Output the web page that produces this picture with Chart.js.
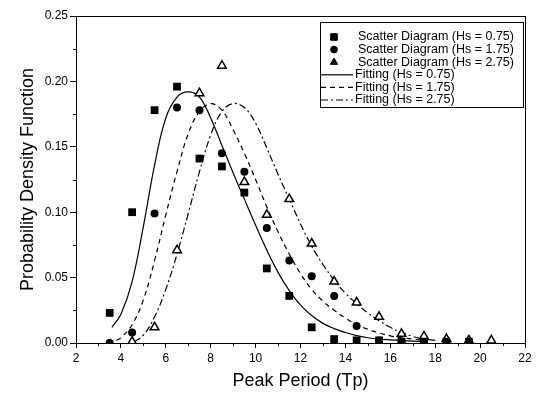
<!DOCTYPE html>
<html><head><meta charset="utf-8">
<script src="https://cdn.jsdelivr.net/npm/chart.js@4/dist/chart.umd.min.js"></script>
<style>html,body{margin:0;padding:0;background:#fff;}#wrap{width:538px;height:396px;}</style>
</head><body><div id="wrap"><canvas id="c" width="538" height="396"></canvas></div>
<script>
// ---- data ----
const seriesLabels = [
  'Scatter Diagram (Hs = 0.75)', 'Scatter Diagram (Hs = 1.75)', 'Scatter Diagram (Hs = 2.75)',
  'Fitting (Hs = 0.75)', 'Fitting (Hs = 1.75)', 'Fitting (Hs = 2.75)'
];
const tpScatter075 = [3.5,4.5,5.5,6.5,7.5,8.5,9.5,10.5,11.5,12.5,13.5,14.5,15.5,16.5,17.5,18.5,19.5];
const pdfScatter075 = [0.023,0.100,0.178,0.196,0.141,0.135,0.115,0.057,0.036,0.012,0.003,0.002,0.002,0.001,0.001,0.001,0.001];
const tpScatter175 = [3.5,4.5,5.5,6.5,7.5,8.5,9.5,10.5,11.5,12.5,13.5,14.5,15.5,16.5,17.5];
const pdfScatter175 = [0.000,0.008,0.099,0.180,0.178,0.145,0.131,0.088,0.063,0.051,0.036,0.013,0.002,0.001,0.001];
const tpScatter275 = [4.5,5.5,6.5,7.5,8.5,9.5,10.5,11.5,12.5,13.5,14.5,15.5,16.5,17.5,18.5,19.5,20.5];
const pdfScatter275 = [0.001,0.012,0.071,0.191,0.212,0.123,0.098,0.110,0.076,0.047,0.031,0.020,0.007,0.005,0.003,0.002,0.002];

const tpFit075 = [3.6,4.0,4.5,5.0,5.5,6.0,6.5,7.0,7.5,8.0,8.5,9.0,9.5,10.0,10.5,11.0,11.5,12.0,12.5,13.0,13.5,14.0,14.5,15.0,15.5,16.0,16.5,17.0,17.5];
const pdfFit075 = [0.012,0.022,0.047,0.089,0.136,0.172,0.188,0.192,0.188,0.172,0.151,0.130,0.110,0.090,0.071,0.054,0.040,0.029,0.021,0.015,0.011,0.008,0.0056,0.004,0.003,0.0024,0.0019,0.0015,0.001];
const tpFit175 = [3.8,4.0,4.5,5.0,5.5,6.0,6.5,7.0,7.5,8.0,8.5,9.0,9.5,10.0,10.5,11.0,11.5,12.0,12.5,13.0,13.5,14.0,14.5,15.0,15.5,16.0,16.5,17.0,17.5];
const pdfFit175 = [0.002,0.004,0.014,0.033,0.063,0.098,0.131,0.160,0.177,0.183,0.178,0.163,0.145,0.125,0.104,0.085,0.068,0.053,0.041,0.032,0.025,0.019,0.014,0.0105,0.0077,0.0055,0.004,0.003,0.002];
const tpFit275 = [4.6,5.0,5.5,6.0,6.5,7.0,7.5,8.0,8.5,9.0,9.5,10.0,10.5,11.0,11.5,12.0,12.5,13.0,13.5,14.0,14.5,15.0,15.5,16.0,16.5,17.0,17.5,18.0];
const pdfFit275 = [0.001,0.006,0.020,0.041,0.068,0.099,0.131,0.159,0.177,0.183,0.180,0.168,0.149,0.129,0.110,0.091,0.074,0.060,0.048,0.038,0.030,0.023,0.017,0.012,0.008,0.005,0.003,0.002];

const xTickStep = 2, yTickStep = 0.05;
const xMin = 2, xMax = 22, yMin = 0, yMax = 0.25;

const pts = (xs, ys) => xs.map((x, i) => ({x, y: ys[i]}));
const FONT = "'Liberation Sans', Arial, sans-serif";
Chart.defaults.font.family = FONT;
Chart.defaults.color = '#000';

const minorAndFrame = {
  id: 'minorAndFrame',
  afterDraw(chart) {
    const {ctx, chartArea: ca, scales: {x, y}} = chart;
    ctx.save();
    ctx.strokeStyle = '#000'; ctx.lineWidth = 1;
    ctx.beginPath();
    const xt = x.ticks.map(t => t.value);
    for (let i = 0; i < xt.length - 1; i++) {
      const px = Math.round(x.getPixelForValue((xt[i] + xt[i+1]) / 2)) + 0.5;
      ctx.moveTo(px, ca.bottom); ctx.lineTo(px, ca.bottom + 3);
    }
    const yt = y.ticks.map(t => t.value);
    for (let i = 0; i < yt.length - 1; i++) {
      const py = Math.round(y.getPixelForValue((yt[i] + yt[i+1]) / 2)) + 0.5;
      ctx.moveTo(ca.left, py); ctx.lineTo(ca.left - 3, py);
    }
    ctx.stroke();
    ctx.strokeRect(Math.round(ca.left) + 0.5, Math.round(ca.top) + 0.5,
                   Math.round(ca.right - ca.left), Math.round(ca.bottom - ca.top));
    ctx.restore();
  }
};

const boxLegend = {
  id: 'boxLegend',
  afterDraw(chart) {
    const {ctx, chartArea: ca} = chart;
    const right = ca.right - 2, left = right - 203, top = ca.top + 6, rowH = 12.6;
    const n = chart.data.datasets.length;
    const first = top + 15;
    const bottom = first + rowH * (n - 1) + 7;
    ctx.save();
    ctx.fillStyle = '#fff';
    ctx.fillRect(left, top, right - left, bottom - top);
    ctx.strokeStyle = '#000'; ctx.lineWidth = 1;
    ctx.strokeRect(Math.round(left) + 0.5, Math.round(top) + 0.5, Math.round(right - left), Math.round(bottom - top));
    ctx.font = '12.5px ' + FONT;
    ctx.textBaseline = 'middle';
    chart.data.datasets.forEach((ds, i) => {
      const cy = first + rowH * i;
      ctx.fillStyle = '#000';
      if (ds.showLine) {
        ctx.save();
        ctx.strokeStyle = ds.borderColor; ctx.lineWidth = ds.borderWidth;
        ctx.setLineDash(ds.borderDash || []);
        ctx.beginPath(); ctx.moveTo(left + 1, cy); ctx.lineTo(left + 33, cy); ctx.stroke();
        ctx.restore();
        ctx.fillText(ds.label, left + 35, cy);
      } else {
        ctx.save();
        ctx.fillStyle = '#000'; ctx.strokeStyle = '#000'; ctx.lineWidth = 1;
        Chart.helpers.drawPoint(ctx, {pointStyle: ds.pointStyle, radius: ds.pointRadius * 0.85, borderWidth: 1, rotation: 0}, left + 14, cy);
        ctx.restore();
        ctx.fillText(ds.label, left + 38, cy);
      }
    });
    ctx.restore();
  }
};

new Chart(document.getElementById('c'), {
  type: 'scatter',
  data: {
    datasets: [
      {label: seriesLabels[0], data: pts(tpScatter075, pdfScatter075), pointStyle: 'rect', pointRadius: 5.5,
       backgroundColor: '#000', borderColor: '#000', borderWidth: 0, showLine: false},
      {label: seriesLabels[1], data: pts(tpScatter175, pdfScatter175), pointStyle: 'circle', pointRadius: 4,
       backgroundColor: '#000', borderColor: '#000', borderWidth: 0, showLine: false},
      {label: seriesLabels[2], data: pts(tpScatter275, pdfScatter275), pointStyle: 'triangle', pointRadius: 5,
       backgroundColor: '#fff', borderColor: '#000', borderWidth: 1.5, showLine: false},
      {label: seriesLabels[3], data: pts(tpFit075, pdfFit075), showLine: true, pointRadius: 0,
       borderColor: '#000', borderWidth: 1.2, borderDash: [], tension: 0.4, fill: false},
      {label: seriesLabels[4], data: pts(tpFit175, pdfFit175), showLine: true, pointRadius: 0,
       borderColor: '#000', borderWidth: 1.2, borderDash: [5, 4], tension: 0.4, fill: false},
      {label: seriesLabels[5], data: pts(tpFit275, pdfFit275), showLine: true, pointRadius: 0,
       borderColor: '#000', borderWidth: 1.2, borderDash: [7, 3, 2, 3], tension: 0.4, fill: false}
    ]
  },
  options: {
    responsive: false, animation: false, devicePixelRatio: 1,
    layout: {padding: {left: 0, top: 16, right: 13, bottom: 0}},
    plugins: {legend: {display: false}, tooltip: {enabled: false}},
    scales: {
      x: {
        type: 'linear', min: xMin, max: xMax,
        ticks: {stepSize: xTickStep, font: {size: 12}, color: '#000', padding: 3, callback: v => String(v)},
        grid: {drawOnChartArea: false, tickLength: 5, tickColor: '#000', tickWidth: 1},
        border: {color: '#000', width: 1},
        title: {display: true, text: 'Peak Period (Tp)', font: {size: 18}, color: '#000', padding: {top: 0, bottom: 4}},
        afterFit: s => { s.height = 53; }
      },
      y: {
        type: 'linear', min: yMin, max: yMax,
        ticks: {stepSize: yTickStep, font: {size: 12}, color: '#000', padding: 2, callback: v => Number(v).toFixed(2)},
        grid: {drawOnChartArea: false, tickLength: 6, tickColor: '#000', tickWidth: 1},
        border: {color: '#000', width: 1},
        title: {display: true, text: 'Probability Density Function', font: {size: 18}, color: '#000', padding: {top: 17, bottom: 0}},
        afterFit: s => { s.width = 76; }
      }
    }
  },
  plugins: [minorAndFrame, boxLegend]
});
</script>
</body></html>
